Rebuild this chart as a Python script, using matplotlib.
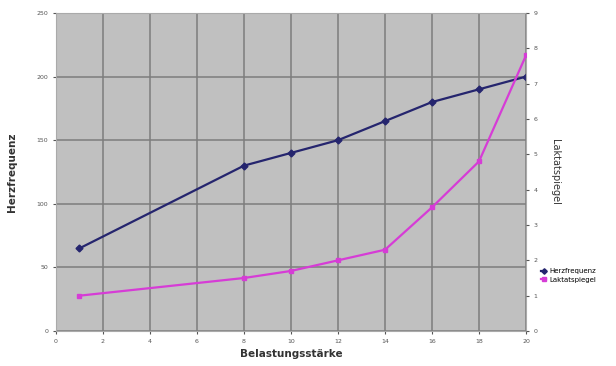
import matplotlib.pyplot as plt

# Belastung vs. Herzfrequenz / Laktat
belastung = [1, 8, 10, 12, 14, 16, 18, 20]
herzfrequenz = [65, 130, 140, 150, 165, 180, 190, 200]
laktat = [1.0, 1.5, 1.7, 2.0, 2.3, 3.5, 4.8, 7.8]

x_ticks = list(range(0, 21, 2))
hf_ticks = [0, 50, 100, 150, 200, 250]
lak_ticks = list(range(0, 10))

blue = '#25256e'
pink = '#d63cd6'

fig = plt.figure(figsize=(6.16, 3.66), dpi=100)
ax = fig.add_axes([0.0909, 0.0956, 0.7630, 0.8689])
ax.set_facecolor('#c0c0c0')

l1, = ax.plot(belastung, herzfrequenz, color=blue, lw=1.6, marker='D', ms=3.5,
              label='Herzfrequenz')
ax.set_xlim(0, 20)
ax.set_ylim(0, 250)
ax.set_xticks(x_ticks)
ax.set_yticks(hf_ticks)
ax.grid(True, color='#7d7d7d', lw=1.1)
ax.set_axisbelow(True)
ax.tick_params(labelsize=4.5, length=2, colors='#555555')
ax.set_ylabel('Herzfrequenz', fontsize=7.5, fontweight='bold', color='#333333',
              labelpad=14)
ax.set_xlabel('Belastungsstärke', fontsize=7.5, fontweight='bold', color='#333333')
for s in ax.spines.values():
    s.set_color('#aaaaaa')

ax2 = ax.twinx()
l2, = ax2.plot(belastung, laktat, color=pink, lw=1.6, marker='s', ms=3.5,
               label='Laktatspiegel')
ax2.set_ylim(0, 9)
ax2.set_yticks(lak_ticks)
ax2.tick_params(labelsize=4.5, length=2, colors='#555555')
ax2.set_ylabel('Laktatspiegel', fontsize=7, rotation=270, labelpad=16, color='#333333')
for s in ax2.spines.values():
    s.set_visible(False)

fig.legend(handles=[l1, l2], loc='upper left', bbox_to_anchor=(0.868, 0.285),
           frameon=False, fontsize=5, handlelength=0.8, markerscale=0.8,
           handletextpad=0.4, labelspacing=0.4)

fig.savefig('out.png', dpi=100)
